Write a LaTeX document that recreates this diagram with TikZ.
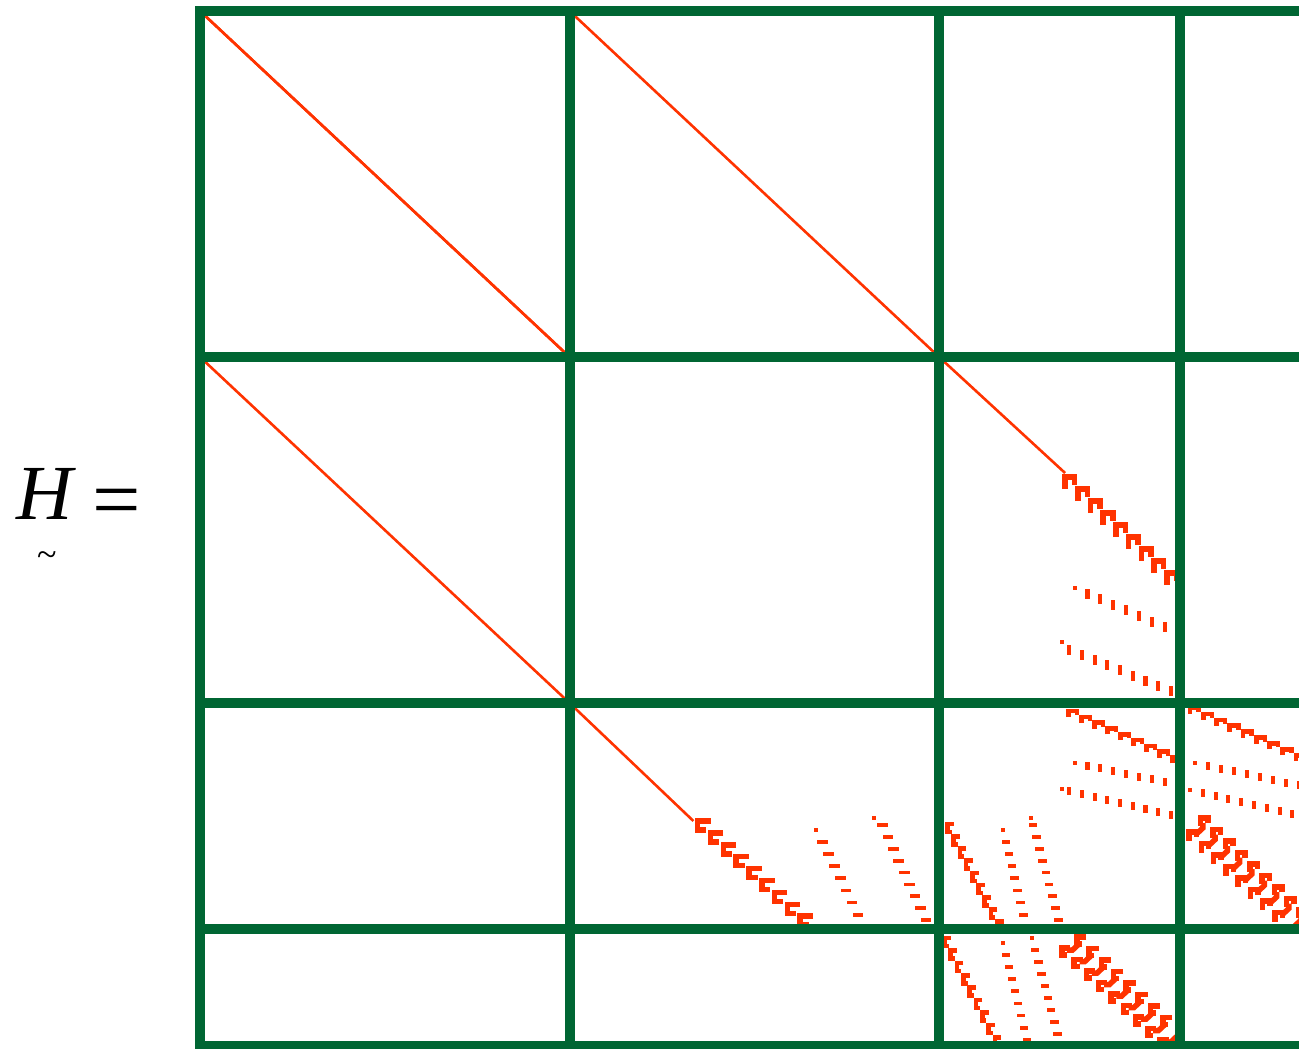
\documentclass[tikz,border=0pt]{standalone}
\usepackage{fontspec}
\setmainfont{Liberation Serif}
\definecolor{gridgreen}{HTML}{006633}
\definecolor{nzred}{HTML}{FF3300}

\begin{document}
\begin{tikzpicture}[
  x=1pt, y=1pt,
  blockline/.style={draw=gridgreen, line width=10pt, line cap=rect},
  diagline/.style={draw=nzred, line width=2.6pt},
  zigbig/.style={draw=nzred, line width=5.5pt},
  zigsmall/.style={draw=nzred, line width=4.6pt},
  nz/.style={fill=nzred},
]
\useasboundingbox (0,0) rectangle (1299,-1049);
\clip (0,0) rectangle (1299,-1049);

\node[anchor=north west, inner sep=0pt, align=left, font=\fontsize{78}{80}\selectfont] (lhs) at (16,-468)
  {\textit{H}\hspace{16pt}\raisebox{-9pt}{\fontsize{86}{88}\selectfont =}\\[-33pt]\hspace*{21pt}{\fontsize{36}{40}\selectfont\textasciitilde}};

% upper triangle, then the same pattern mirrored
\foreach \ma/\mb/\mc/\md in {1.068/0/0/-1, 0/-1/1.068/0} {
  \begin{scope}[cm={\ma,\mb,\mc,\md,(200pt,-11pt)}]
    \draw[diagline] (0,0) -- (346,346);
    \draw[diagline] (346,0) -- (692,346);
    \draw[diagline] (692,346) -- (810,462);
    % block (1,2)
    \foreach \k in {0,...,8}
      \draw[zigbig] (810+11.9*\k,478+12*\k) -- ++(0,-12) -- ++(9,0) -- ++(0,8);
    \fill[nz] (817,575) rectangle ++(3.8,4);
    \foreach \k in {1,...,7}
      \fill[nz] (817+12.1*\k,572+5.6*\k) rectangle ++(3.8,10);
    \fill[nz] (805,629) rectangle ++(3.8,4);
    \foreach \k in {0,...,8}
      \fill[nz] (812+11.9*\k,634+5.1*\k) rectangle ++(3.8,10);
    % block (2,2)
    \foreach \k in {0,...,8}
      \draw[zigsmall] (813+12.2*\k,706+5.8*\k) -- ++(0,-6) -- ++(8,0) -- ++(0,4);
    \fill[nz] (817,750) rectangle ++(3.8,4);
    \foreach \k in {1,...,7}
      \fill[nz] (817+12.1*\k,748+2.7*\k) rectangle ++(3.8,8);
    \fill[nz] (805,776) rectangle ++(3.8,4);
    \foreach \k in {0,...,8}
      \fill[nz] (812+11.9*\k,776+3*\k) rectangle ++(3.8,8);
    % block (2,3)
    \foreach \k in {0,...,8}
      \draw[zigsmall] (927+12.4*\k,703+5.9*\k) -- ++(0,-6) -- ++(8,0) -- ++(0,4);
    \fill[nz] (930,750) rectangle ++(3.8,4);
    \foreach \k in {1,...,8}
      \fill[nz] (930+12.1*\k,748+2.8*\k) rectangle ++(3.8,8);
    \fill[nz] (925,777) rectangle ++(3.8,4);
    \foreach \k in {1,...,8}
      \fill[nz] (925+12*\k,775+3*\k) rectangle ++(3.8,8);
    \foreach \k in {0,...,7}
      \draw[zigbig] (926+11.5*\k,830+11.5*\k) -- ++(0,-9) -- ++(7,0) -- ++(0,5);
    \foreach \k in {0,...,8} {
      \draw[zigbig] (932+11.5*\k,824+11.5*\k) -- ++(7,-7) -- ++(0,-5);
      \draw[zigbig] (937+11.5*\k,815+11.5*\k) -- ++(0,-8) -- ++(7,0) -- ++(0,5);
    }
  \end{scope}
}

\foreach \p in {0,346,692,918,1035} {
  \draw[blockline] (200+1.068*\p,-11) -- (200+1.068*\p,-1046);
  \draw[blockline] (200,-11-\p) -- (1305,-11-\p);
}
\end{tikzpicture}
\end{document}
